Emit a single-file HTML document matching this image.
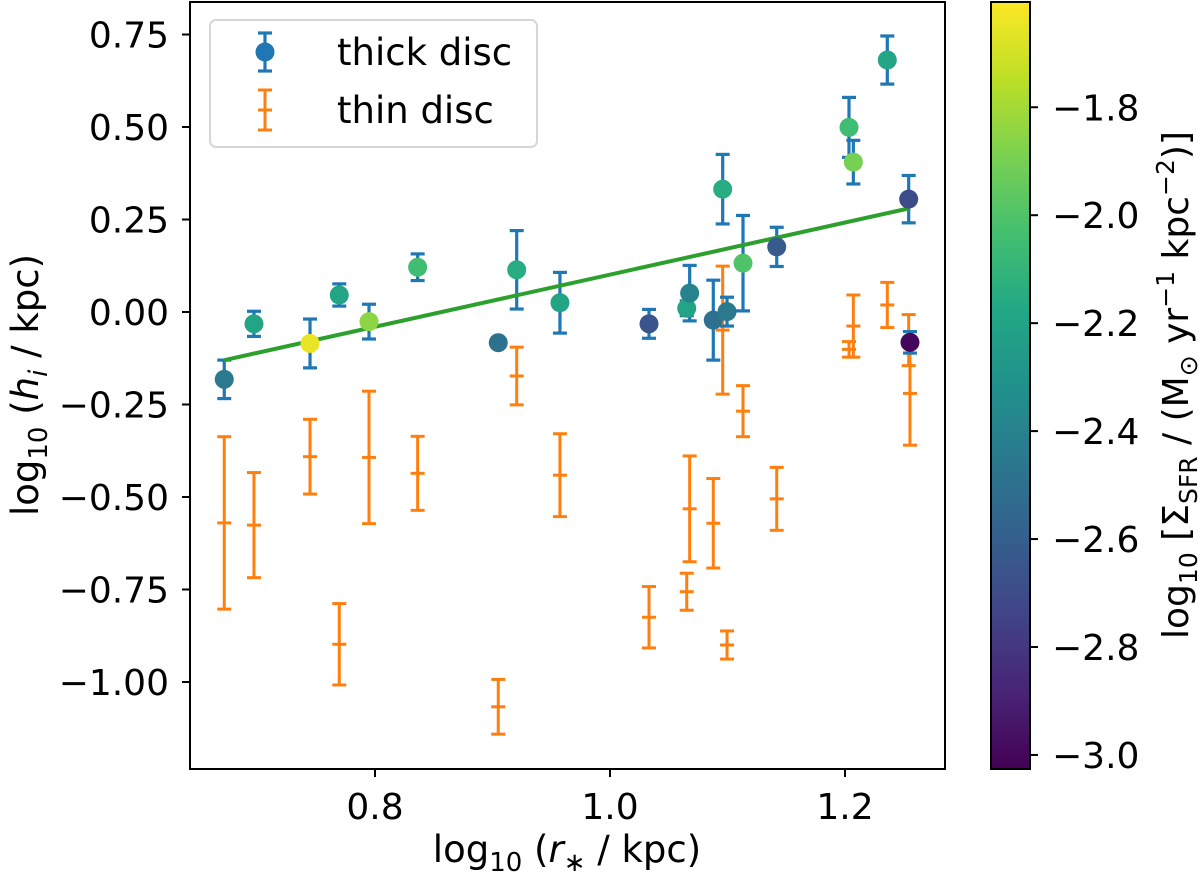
<!DOCTYPE html>
<html><head><meta charset="utf-8">
<style>
html,body{margin:0;padding:0;background:#fff;}
svg{display:block;font-family:"DejaVu Sans","Liberation Sans",sans-serif;}
</style></head>
<body>
<svg id="chart" width="1200" height="877" viewBox="0 0 1200 877" xmlns="http://www.w3.org/2000/svg">
<defs>
<linearGradient id="viridis" x1="0" y1="1" x2="0" y2="0">
<stop offset="0" stop-color="#440154"/><stop offset="0.1" stop-color="#482475"/><stop offset="0.2" stop-color="#414487"/>
<stop offset="0.3" stop-color="#355f8d"/><stop offset="0.4" stop-color="#2a788e"/><stop offset="0.5" stop-color="#21918c"/>
<stop offset="0.6" stop-color="#22a884"/><stop offset="0.7" stop-color="#44bf70"/><stop offset="0.8" stop-color="#7ad151"/>
<stop offset="0.9" stop-color="#bddf26"/><stop offset="1" stop-color="#fde725"/>
</linearGradient>
</defs>
<g id="plot"></g>
<g id="axes"></g>
<g id="cbar"></g>
</svg>
<script>
// ---- data ----
const logR = [0.6717,0.697,0.7447,0.7696,0.7949,0.8363,0.9049,0.9206,0.9574,1.0332,1.0653,1.0678,1.0879,1.0959,1.0996,1.1132,1.1419,1.2034,1.2071,1.236,1.2542,1.2553];
const thickH = [-0.182,-0.032,-0.085,0.046,-0.026,0.121,-0.083,0.114,0.025,-0.032,0.010,0.051,-0.022,0.332,0.001,0.132,0.176,0.499,0.405,0.681,0.305,-0.082];
const thickErr = [0.052,0.034,0.066,0.03,0.047,0.036,0.005,0.106,0.082,0.039,0.02,0.075,0.108,0.094,0.039,0.129,0.053,0.081,0.059,0.065,0.064,0.029];
const thinH = [-0.570,-0.576,-0.391,-0.898,-0.393,-0.436,-1.067,-0.173,-0.441,-0.825,-0.756,-0.532,-0.571,-0.049,-0.900,-0.268,-0.505,-0.101,-0.038,0.019,-0.076,-0.220];
const thinErr = [0.233,0.142,0.101,0.11,0.179,0.1,0.074,0.078,0.112,0.083,0.05,0.143,0.121,0.173,0.038,0.069,0.085,0.021,0.084,0.061,0.069,0.14];
const sfr = [-2.45,-2.2,-1.65,-2.2,-1.85,-2.05,-2.5,-2.15,-2.2,-2.65,-2.2,-2.4,-2.5,-2.15,-2.45,-2.0,-2.62,-2.05,-1.9,-2.2,-2.7,-3.0];
const fitSlope = 0.704, fitIntercept = -0.603;
const xTicks = [0.8,1.0,1.2];
const xTickLabels = ["0.8","1.0","1.2"];
const yTicks = [0.75,0.5,0.25,0,-0.25,-0.5,-0.75,-1.0];
const yTickLabels = ["0.75","0.50","0.25","0.00","\u22120.25","\u22120.50","\u22120.75","\u22121.00"];
const cTicks = [-1.8,-2.0,-2.2,-2.4,-2.6,-2.8,-3.0];
const cTickLabels = ["\u22121.8","\u22122.0","\u22122.2","\u22122.4","\u22122.6","\u22122.8","\u22123.0"];

// ---- scales ----
const X = v => 610 + (v - 1) * 1175;
const Y = v => 312 - v * 370;
const CMIN = -3.026, CMAX = -1.605;
const CY = v => 769 - (v - CMIN) / (CMAX - CMIN) * 767;
const vir = [[68,1,84],[72,36,117],[65,68,135],[53,95,141],[42,120,142],[33,145,140],[34,168,132],[68,191,112],[122,209,81],[189,223,38],[253,231,37]];
function color(v){
  let t = (v - CMIN) / (CMAX - CMIN); t = Math.max(0, Math.min(1, t));
  const f = t * 10, i = Math.min(9, Math.floor(f)), r = f - i;
  const c = vir[i].map((a, k) => Math.round(a + (vir[i+1][k] - a) * r));
  return `rgb(${c[0]},${c[1]},${c[2]})`;
}
const NS = "http://www.w3.org/2000/svg";
function mk(parent, tag, attrs, text){
  const e = document.createElementNS(NS, tag);
  for (const k in attrs) e.setAttribute(k, attrs[k]);
  if (text !== undefined) e.textContent = text;
  parent.appendChild(e); return e;
}
const plot = document.getElementById('plot');
const axes = document.getElementById('axes');
const cbar = document.getElementById('cbar');

// thin disc error bars
logR.forEach((r, i) => {
  const g = mk(plot, 'g', {stroke:'#ff7f0e','stroke-width':3});
  
  
  const x = X(r), t = Y(thinH[i] + thinErr[i]), b = Y(thinH[i] - thinErr[i]), c = Y(thinH[i]);
  mk(g, 'line', {x1:x, x2:x, y1:t, y2:b});
  mk(g, 'line', {x1:x-7, x2:x+7, y1:t, y2:t});
  mk(g, 'line', {x1:x-7, x2:x+7, y1:b, y2:b});
  mk(g, 'line', {x1:x-7, x2:x+7, y1:c, y2:c});
});
// thick disc error bars
logR.forEach((r, i) => {
  const g = mk(plot, 'g', {stroke:'#1f77b4','stroke-width':3.2});
  
  
  const x = X(r), t = Y(thickH[i] + thickErr[i]), b = Y(thickH[i] - thickErr[i]);
  mk(g, 'line', {x1:x, x2:x, y1:t, y2:b});
  mk(g, 'line', {x1:x-7, x2:x+7, y1:t, y2:t});
  mk(g, 'line', {x1:x-7, x2:x+7, y1:b, y2:b});
});
// fit line
const x0 = Math.min(...logR), x1 = Math.max(...logR);
const fl = mk(plot, 'line', {x1:X(x0), y1:Y(fitSlope*x0+fitIntercept), x2:X(x1), y2:Y(fitSlope*x1+fitIntercept), stroke:'#2ca02c','stroke-width':4});


// thick points
logR.forEach((r, i) => {
  const c = mk(plot, 'circle', {cx:X(r), cy:Y(thickH[i]), r:9.5, fill:color(sfr[i])});
  
  
});

// axes frame
mk(axes, 'rect', {x:190, y:2, width:755, height:767, fill:'none', stroke:'#000', 'stroke-width':2});
xTicks.forEach((v, i) => {
  mk(axes, 'line', {x1:X(v), x2:X(v), y1:769, y2:777, stroke:'#000', 'stroke-width':2});
  const t = mk(axes, 'text', {x:X(v), y:819, 'text-anchor':'middle', 'font-size':36}, xTickLabels[i]);
  
  
});
yTicks.forEach((v, i) => {
  mk(axes, 'line', {x1:182, x2:190, y1:Y(v), y2:Y(v), stroke:'#000', 'stroke-width':2});
  const t = mk(axes, 'text', {x:169, y:Y(v)+13, 'text-anchor':'end', 'font-size':36}, yTickLabels[i]);
  
  
});
// colorbar
mk(cbar, 'rect', {x:991, y:2, width:39, height:767, fill:'url(#viridis)', stroke:'#000', 'stroke-width':2});
cTicks.forEach((v, i) => {
  mk(cbar, 'line', {x1:1030, x2:1038, y1:CY(v), y2:CY(v), stroke:'#000', 'stroke-width':2});
  const t = mk(cbar, 'text', {x:1052, y:CY(v)+13, 'font-size':36}, cTickLabels[i]);
  
  
});
</script>
<svg width="0" height="0" style="position:absolute"></svg>
<script>
const svg = document.getElementById('chart');
svg.insertAdjacentHTML('beforeend', `
<g>
<rect x="210" y="20" width="327" height="127" rx="6" fill="#fff" fill-opacity="0.8" stroke="#d6d6d6" stroke-width="2"/>
<g>
<line x1="265" x2="265" y1="33" y2="71" stroke="#1f77b4" stroke-width="3.2"/>
<line x1="258" x2="272" y1="33" y2="33" stroke="#1f77b4" stroke-width="3.2"/>
<line x1="258" x2="272" y1="71" y2="71" stroke="#1f77b4" stroke-width="3.2"/>
<circle cx="265" cy="52" r="9.5" fill="#1f77b4"/>
<text x="337" y="65" font-size="37">thick disc</text>
</g>
<g>
<line x1="265" x2="265" y1="90" y2="130" stroke="#ff7f0e" stroke-width="3"/>
<line x1="258" x2="272" y1="90" y2="90" stroke="#ff7f0e" stroke-width="3"/>
<line x1="258" x2="272" y1="130" y2="130" stroke="#ff7f0e" stroke-width="3"/>
<line x1="258" x2="272" y1="110" y2="110" stroke="#ff7f0e" stroke-width="3"/>
<text x="337" y="123" font-size="37">thin disc</text>
</g>
</g>
<text x="567" y="862" text-anchor="middle" font-size="37">log<tspan font-size="26" dy="9">10</tspan><tspan dy="-9"> (</tspan><tspan font-style="italic">r</tspan><tspan font-size="26" dy="9">∗</tspan><tspan dy="-9"> / kpc)</tspan></text>
<text transform="translate(38,385) rotate(-90)" text-anchor="middle" font-size="37">log<tspan font-size="26" dy="9">10</tspan><tspan dy="-9"> (</tspan><tspan font-style="italic">h</tspan><tspan font-size="26" font-style="italic" dy="9">i</tspan><tspan dy="-9"> / kpc)</tspan></text>
<text transform="translate(1188,385) rotate(-90)" text-anchor="middle" font-size="36">log<tspan font-size="25" dy="9">10</tspan><tspan dy="-9"> [Σ</tspan><tspan font-size="25" dy="9">SFR</tspan><tspan dy="-9"> / (M</tspan><tspan font-size="25" dy="9">⊙</tspan><tspan dy="-9"> yr</tspan><tspan font-size="25" dy="-14">−1</tspan><tspan dy="14"> kpc</tspan><tspan font-size="25" dy="-14">−2</tspan><tspan dy="14">)]</tspan></text>
`);
</script>
</body></html>
